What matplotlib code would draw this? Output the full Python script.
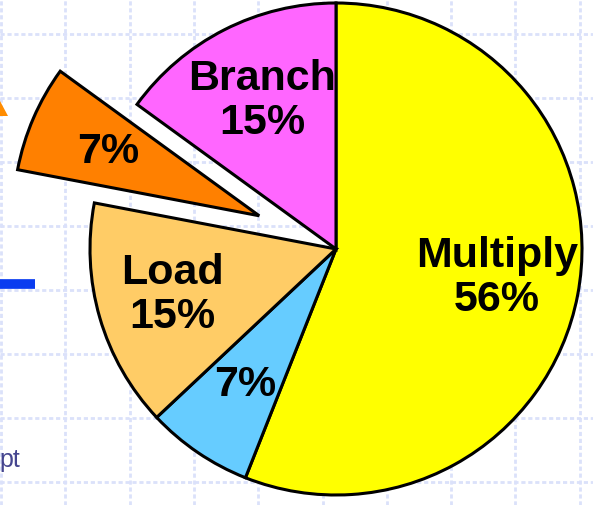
import matplotlib.pyplot as plt
from matplotlib.patches import Polygon

# 指令类别与占比
categories = ['Multiply', '', 'Load', '', 'Branch']
shares = [56, 7, 15, 7, 15]
colors = ['#ffff00', '#66ccff', '#ffcc66', '#ff8000', '#ff66ff']
explode_frac = [0, 0, 0, 0.34, 0]

W, H = 593, 506

fig = plt.figure(figsize=(W / 100, H / 100), dpi=100)
ax = fig.add_axes([0, 0, 1, 1])

# 背景网格
for x in [1 + 64.3 * k for k in range(10)]:
    ax.axvline(x, color='#dbe1fa', lw=2, ls=(0, (1.5, 1)), zorder=0)
for y in [35 + 64 * k for k in range(8)]:
    ax.axhline(H - y, color='#dbe1fa', lw=2, ls=(0, (1.5, 1)), zorder=0)

cx, cy, r = 336, H - 250, 246
# pie 的 explode 是绝对距离，按半径换算
wedges, _ = ax.pie(shares, colors=colors, explode=[e * r for e in explode_frac],
                   startangle=90, counterclock=False, radius=r, center=(cx, cy),
                   wedgeprops=dict(edgecolor='black', linewidth=2.2))

# 标签
label_pos = [(497, 278), (245, 385), (172, 295), (108, 152), (262, 101)]
font = dict(family=['Liberation Sans', 'DejaVu Sans'], weight='bold',
            fontsize=31, ha='center', va='center', linespacing=1.15)
for name, v, (lx, ly) in zip(categories, shares, label_pos):
    txt = f'{name}\n{v}%' if name else f'{v}%'
    ax.text(lx, H - ly, txt, **font)

# 左侧残留的页面元素
ax.add_patch(Polygon([(0, H - 102), (8, H - 117), (0, H - 117)],
                     closed=True, color='#ff8c00', lw=0))
ax.plot([0, 35], [H - 285, H - 285], color='#0a3cf0', lw=7, solid_capstyle='butt')
ax.text(-1, H - 460, 'pt', color='#45458f', fontsize=18,
        family='Liberation Sans', ha='left', va='center')

ax.set_xlim(0, W)
ax.set_ylim(0, H)
ax.set_aspect('equal')
ax.axis('off')

fig.savefig('out.png', dpi=100)
